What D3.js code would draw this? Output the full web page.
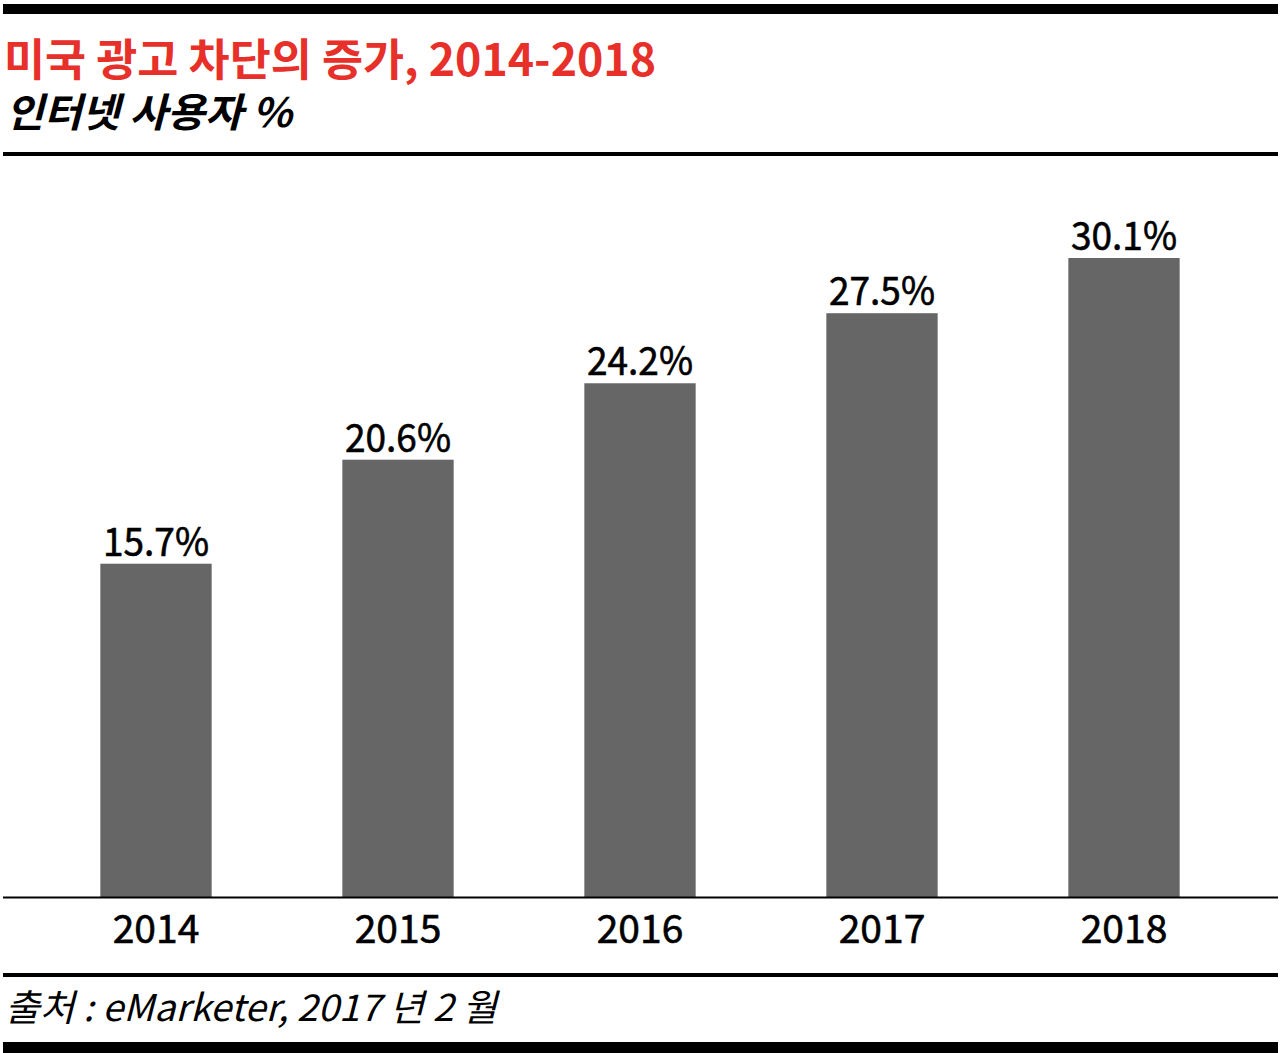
<!DOCTYPE html>
<html>
<head>
<meta charset="utf-8">
<script src="https://cdn.jsdelivr.net/npm/d3@7"></script>
<style>
  body { margin: 0; background: #fff; }
  svg { display: block; }
  text { font-family: "Noto Sans CJK KR", "Noto Sans", sans-serif; }
</style>
</head>
<body>
<div id="chart"></div>
<script>
// chart values
const years = ["2014", "2015", "2016", "2017", "2018"];
const shares = [15.7, 20.6, 24.2, 27.5, 30.1];

const width = 1280;
const height = 1053;

const svg = d3.select("#chart")
    .append("svg")
    .attr("width", width)
    .attr("height", height);

// scales
const x = d3.scaleBand()
    .domain(years)
    .range([35, 1245])
    .paddingInner(0.54)
    .paddingOuter(0.27);

const y = d3.scaleLinear()
    .domain([0, 35])
    .range([897, 154]);

// rules
svg.append("rect").attr("x", 3).attr("y", 4).attr("width", 1275).attr("height", 10).attr("fill", "#000");
svg.append("rect").attr("x", 3).attr("y", 152).attr("width", 1275).attr("height", 4).attr("fill", "#000");
svg.append("rect").attr("x", 3).attr("y", 973).attr("width", 1275).attr("height", 4).attr("fill", "#000");
svg.append("rect").attr("x", 3).attr("y", 1042).attr("width", 1275).attr("height", 11).attr("fill", "#000");

// titles
svg.append("text")
    .attr("x", 4)
    .attr("y", 76)
    .attr("fill", "#e8302a")
    .attr("font-size", 44)
    .attr("font-weight", 700)
    .attr("textLength", 652)
    .attr("lengthAdjust", "spacingAndGlyphs")
    .text("미국 광고 차단의 증가, 2014-2018");

svg.append("text")
    .attr("x", 6)
    .attr("y", 127)
    .attr("fill", "#000")
    .attr("font-size", 40)
    .attr("font-weight", 700)
    .attr("font-style", "italic")
    .attr("textLength", 286)
    .attr("lengthAdjust", "spacingAndGlyphs")
    .text("인터넷 사용자 %");

// bars
const g = svg.append("g");

g.selectAll(".bar")
    .data(shares)
    .enter()
    .append("rect")
    .attr("class", "bar")
    .attr("x", (d, i) => x(years[i]))
    .attr("y", d => y(d))
    .attr("width", x.bandwidth())
    .attr("height", d => y(0) - y(d))
    .attr("fill", "#666666");

// value labels
g.selectAll(".val")
    .data(shares)
    .enter()
    .append("text")
    .attr("class", "val")
    .attr("x", (d, i) => x(years[i]) + x.bandwidth() / 2)
    .attr("y", d => y(d) - 8)
    .attr("text-anchor", "middle")
    .attr("font-size", 39)
    .attr("fill", "#000")
    .attr("stroke", "#000")
    .attr("stroke-width", 0.6)
    .attr("textLength", 106)
    .attr("lengthAdjust", "spacingAndGlyphs")
    .text(d => d.toFixed(1) + "%");

// baseline axis
const xAxis = svg.append("g")
    .attr("transform", `translate(0,${y(0)})`)
    .call(d3.axisBottom(x).tickSize(0).tickPadding(18));

xAxis.select(".domain").remove();
xAxis.append("line")
    .attr("x1", 3).attr("x2", 1278)
    .attr("y1", 0.5).attr("y2", 0.5)
    .attr("stroke", "#000")
    .attr("stroke-width", 2);

xAxis.selectAll("text")
    .attr("font-family", "\"Noto Sans CJK KR\", \"Noto Sans\", sans-serif")
    .attr("font-size", 39)
    .attr("fill", "#000")
    .attr("stroke", "#000")
    .attr("stroke-width", 0.6)
    .attr("dy", "0.71em");

// source
svg.append("text")
    .attr("x", 5)
    .attr("y", 1021)
    .attr("fill", "#000")
    .attr("font-size", 37)
    .attr("font-style", "italic")
    .attr("textLength", 492)
    .attr("lengthAdjust", "spacingAndGlyphs")
    .text("출처 : eMarketer, 2017 년 2 월");
</script>
</body>
</html>
